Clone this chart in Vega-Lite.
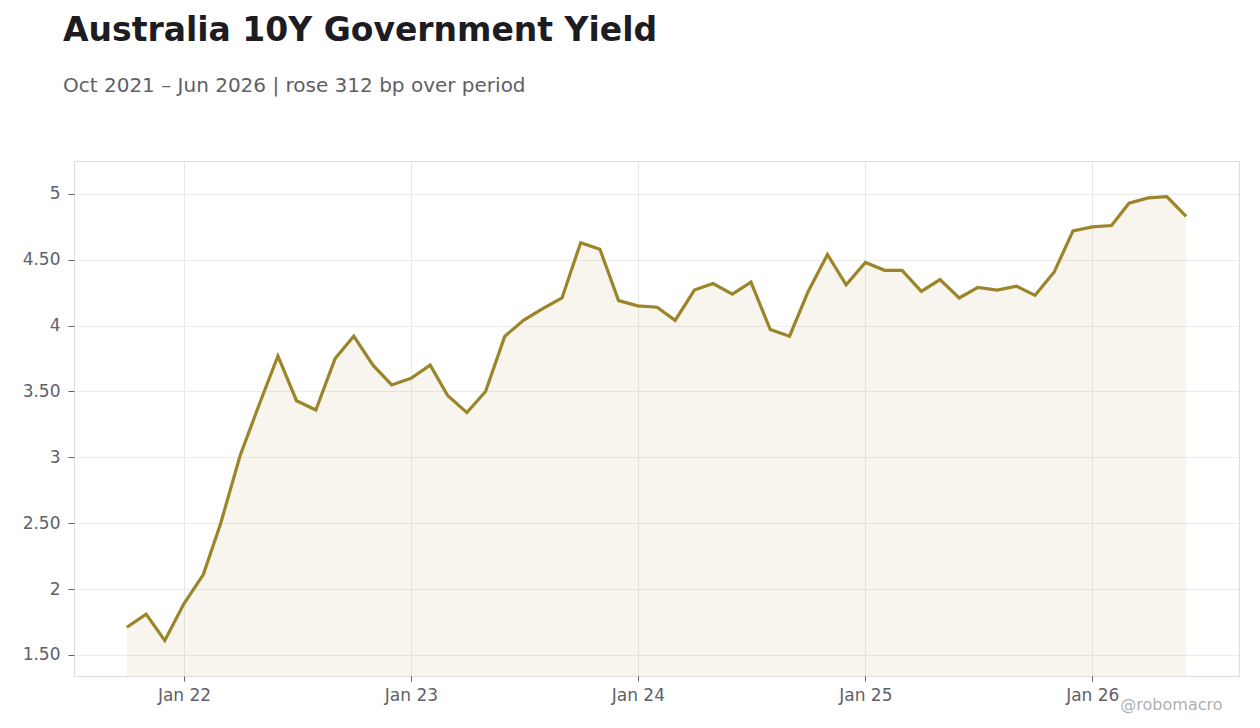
{
  "$schema": "https://vega.github.io/schema/vega-lite/v6.json",
  "width": 1260,
  "height": 728,
  "autosize": {"type": "fit", "contains": "padding"},
  "padding": {"left": 22, "top": 15, "right": 21, "bottom": 16},
  "background": "white",
  "title": {
    "text": "Australia 10Y Government Yield",
    "subtitle": "Oct 2021 – Jun 2026 | rose 312 bp over period",
    "anchor": "start",
    "frame": "group",
    "dx": -11,
    "font": "DejaVu Sans",
    "fontSize": 33,
    "fontWeight": "bold",
    "color": "#1c1c22",
    "subtitleFont": "DejaVu Sans",
    "subtitleFontSize": 20,
    "subtitleColor": "#5f6068",
    "subtitlePadding": 28,
    "offset": 65
  },
  "config": {
    "view": {"stroke": "#dddde0", "strokeWidth": 1},
    "axis": {
      "labelFont": "DejaVu Sans",
      "labelFontSize": 17,
      "labelColor": "#5f6068",
      "tickColor": "#5f6068",
      "tickSize": 6,
      "domain": false,
      "gridColor": "#ececec",
      "gridWidth": 1
    }
  },
  "data": {
    "values": [
      {"date": "2021-10-01", "yield": 1.71},
      {"date": "2021-11-01", "yield": 1.81},
      {"date": "2021-12-01", "yield": 1.61},
      {"date": "2022-01-01", "yield": 1.89},
      {"date": "2022-02-01", "yield": 2.11},
      {"date": "2022-03-01", "yield": 2.50},
      {"date": "2022-04-01", "yield": 3.01},
      {"date": "2022-05-01", "yield": 3.39},
      {"date": "2022-06-01", "yield": 3.77},
      {"date": "2022-07-01", "yield": 3.43},
      {"date": "2022-08-01", "yield": 3.36},
      {"date": "2022-09-01", "yield": 3.75},
      {"date": "2022-10-01", "yield": 3.92},
      {"date": "2022-11-01", "yield": 3.70},
      {"date": "2022-12-01", "yield": 3.55},
      {"date": "2023-01-01", "yield": 3.60},
      {"date": "2023-02-01", "yield": 3.70},
      {"date": "2023-03-01", "yield": 3.47},
      {"date": "2023-04-01", "yield": 3.34},
      {"date": "2023-05-01", "yield": 3.50},
      {"date": "2023-06-01", "yield": 3.92},
      {"date": "2023-07-01", "yield": 4.04},
      {"date": "2023-08-01", "yield": 4.13},
      {"date": "2023-09-01", "yield": 4.21},
      {"date": "2023-10-01", "yield": 4.63},
      {"date": "2023-11-01", "yield": 4.58},
      {"date": "2023-12-01", "yield": 4.19},
      {"date": "2024-01-01", "yield": 4.15},
      {"date": "2024-02-01", "yield": 4.14},
      {"date": "2024-03-01", "yield": 4.04},
      {"date": "2024-04-01", "yield": 4.27},
      {"date": "2024-05-01", "yield": 4.32},
      {"date": "2024-06-01", "yield": 4.24},
      {"date": "2024-07-01", "yield": 4.33},
      {"date": "2024-08-01", "yield": 3.97},
      {"date": "2024-09-01", "yield": 3.92},
      {"date": "2024-10-01", "yield": 4.26},
      {"date": "2024-11-01", "yield": 4.54},
      {"date": "2024-12-01", "yield": 4.31},
      {"date": "2025-01-01", "yield": 4.48},
      {"date": "2025-02-01", "yield": 4.42},
      {"date": "2025-03-01", "yield": 4.42},
      {"date": "2025-04-01", "yield": 4.26},
      {"date": "2025-05-01", "yield": 4.35},
      {"date": "2025-06-01", "yield": 4.21},
      {"date": "2025-07-01", "yield": 4.29},
      {"date": "2025-08-01", "yield": 4.27},
      {"date": "2025-09-01", "yield": 4.30},
      {"date": "2025-10-01", "yield": 4.23},
      {"date": "2025-11-01", "yield": 4.41},
      {"date": "2025-12-01", "yield": 4.72},
      {"date": "2026-01-01", "yield": 4.75},
      {"date": "2026-02-01", "yield": 4.76},
      {"date": "2026-03-01", "yield": 4.93},
      {"date": "2026-04-01", "yield": 4.97},
      {"date": "2026-05-01", "yield": 4.98},
      {"date": "2026-06-01", "yield": 4.83}
    ]
  },
  "encoding": {
    "x": {
      "field": "date",
      "type": "temporal",
      "scale": {
        "type": "utc",
        "domain": [
          {"year": 2021, "month": 7, "date": 8, "utc": true},
          {"year": 2026, "month": 8, "date": 25, "utc": true}
        ]
      },
      "axis": {
        "values": [
          {"year": 2022, "month": 1, "date": 1, "utc": true},
          {"year": 2023, "month": 1, "date": 1, "utc": true},
          {"year": 2024, "month": 1, "date": 1, "utc": true},
          {"year": 2025, "month": 1, "date": 1, "utc": true},
          {"year": 2026, "month": 1, "date": 1, "utc": true}
        ],
        "labelExpr": "utcFormat(datum.value, '%b %y')",
        "tickSize": 5,
        "labelPadding": 6,
        "gridColor": "#e8e8e8",
        "title": "@robomacro",
        "titleFont": "DejaVu Sans",
        "titleFontSize": 16,
        "titleFontWeight": "normal",
        "titleColor": "#b0b0b4",
        "titleAlign": "right",
        "titleBaseline": "alphabetic",
        "titleX": 1148,
        "titleY": 33
      }
    },
    "y": {
      "field": "yield",
      "type": "quantitative",
      "scale": {"domain": [1.34, 5.25], "zero": false, "nice": false},
      "axis": {
        "title": null,
        "values": [1.5, 2, 2.5, 3, 3.5, 4, 4.5, 5],
        "labelExpr": "datum.value % 1 === 0 ? format(datum.value, 'd') : format(datum.value, '.2f')",
        "labelPadding": 8
      }
    }
  },
  "layer": [
    {"mark": {"type": "area", "color": "#9c8428", "opacity": 0.08, "clip": true}},
    {"mark": {"type": "line", "color": "#9c8428", "strokeWidth": 3.2}}
  ]
}
